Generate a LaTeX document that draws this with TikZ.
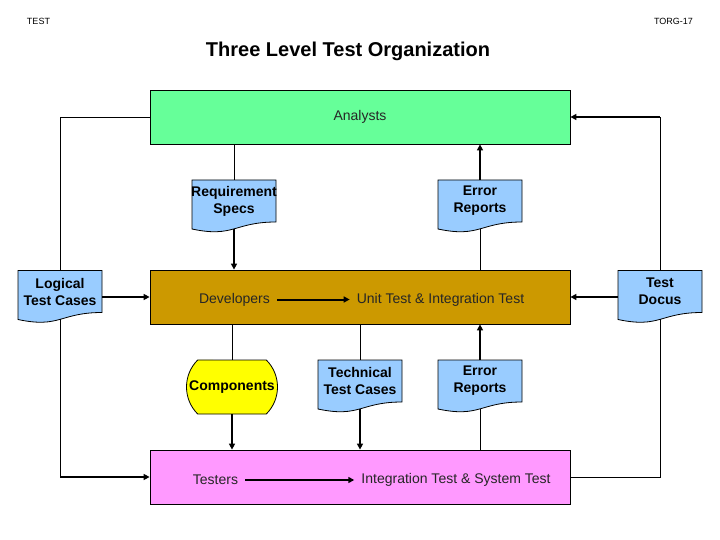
\documentclass[tikz,border=0pt]{standalone}
\usepackage{fontspec}
\setmainfont{Liberation Sans}
\usetikzlibrary{arrows.meta,calc,shapes.misc}
\definecolor{agreen}{HTML}{66FF99}
\definecolor{dgold}{HTML}{CC9900}
\definecolor{tpink}{HTML}{FF99FF}
\definecolor{dblue}{HTML}{99CCFF}
\definecolor{cyellow}{HTML}{FFFF00}
\newcommand\docnode[4]{%
  \draw[docshape] ({#2-42},{#3-21}) -- ({#2+42},{#3-21}) -- ({#2+42},{#3+21})
     .. controls ({#2},{#3+21}) and ({#2},{#3+37}) .. ({#2-42},{#3+28}) -- cycle;
  \node[doctext] (#1) at (#2,#3) {#4};
  \coordinate (#1-b) at (#2,{#3+27.9});
}
\begin{document}
\begin{tikzpicture}[x=1pt,y=-1pt,
  box/.style={draw=black, line width=0.8pt, minimum width=420pt, minimum height=54pt, inner sep=0pt},
  lbl/.style={font=\fontsize{14}{16}\selectfont, text=black!85, inner ysep=0pt, inner xsep=7pt},
  doctext/.style={font=\bfseries\fontsize{14}{17}\selectfont, align=center, minimum width=84pt, minimum height=42pt, inner sep=0pt},
  docshape/.style={draw=black, fill=dblue, line width=0.8pt},
  thinln/.style={line width=0.8pt},
  thickln/.style={line width=2pt},
  arr/.style={thickln, -{Triangle[length=6pt,width=6pt]}},
]
\useasboundingbox (0,0) rectangle (720,540);
\node[font=\fontsize{9}{10}\selectfont] (hdl) at (38.5,21) {TEST};
\node[font=\fontsize{9}{10}\selectfont] (hdr) at (673.5,21) {TORG-17};
\node[font=\bfseries\fontsize{20}{24}\selectfont] (title) at (348,51) {Three Level Test Organization};

\node[box, fill=agreen] (ana) at (360,117) {};
\node[lbl] (anat) at (360,117) {Analysts};
\node[box, fill=dgold] (dev) at (360,297) {};
\node[lbl] (devt) at (234.5,299.5) {Developers};
\node[lbl] (utit) at (440.5,299.5) {Unit Test \& Integration Test};
\node[box, fill=tpink] (tes) at (360,477) {};
\node[lbl] (test) at (215.5,480) {Testers};
\node[lbl] (itst) at (456,480) {Integration Test \& System Test};

\docnode{rs}{234}{201}{Requirement\\Specs}
\docnode{era}{480}{201}{Error\\Reports}
\docnode{ltc}{60}{291.5}{Logical\\Test Cases}
\docnode{td}{660}{291.5}{Test\\Docus}
\docnode{ttc}{360}{381}{Technical\\Test Cases}
\docnode{erb}{480}{381}{Error\\Reports}

\node[rounded rectangle, rounded rectangle arc length=90, draw=black, line width=0.8pt, fill=cyellow,
  minimum width=91pt, minimum height=54pt, inner sep=0pt, font=\bfseries\fontsize{14}{17}\selectfont] (comp) at (232,387) {Components};

% inner arrows
\draw[arr] (devt) -- (utit);
\draw[arr] (test) -- (itst);

% vertical connectors
\draw[thinln] (ana.south -| rs) -- (rs.north);
\draw[arr] (rs-b) -- (dev.north -| rs-b);
\draw[arr] (era.north) -- (ana.south -| era);
\draw[thinln] (era-b) -- (dev.north -| era-b);
\draw[thinln] (dev.south -| comp) -- (comp.north);
\draw[arr] (comp.south) -- (tes.north -| comp);
\draw[thinln] (dev.south -| ttc) -- (ttc.north);
\draw[arr] (ttc-b) -- (tes.north -| ttc-b);
\draw[arr] (erb.north) -- (dev.south -| erb);
\draw[thinln] (erb-b) -- (tes.north -| erb-b);

% side documents
\draw[arr] (ltc.east |- dev.west) -- (dev.west);
\draw[arr] (td.west |- dev.east) -- (dev.east);
\draw[thinln] (ltc.north) |- (ana.west);
\coordinate (ltcc) at (ltc-b |- tes.west);
\draw[thinln] (ltc-b) -- (ltcc);
\draw[arr] (ltcc) -- (tes.west);
\coordinate (tdc) at (td.north |- ana.east);
\draw[thinln] (td.north) -- (tdc);
\draw[arr] (tdc) -- (ana.east);
\draw[thinln] (td-b) |- (tes.east);
\end{tikzpicture}
\end{document}
